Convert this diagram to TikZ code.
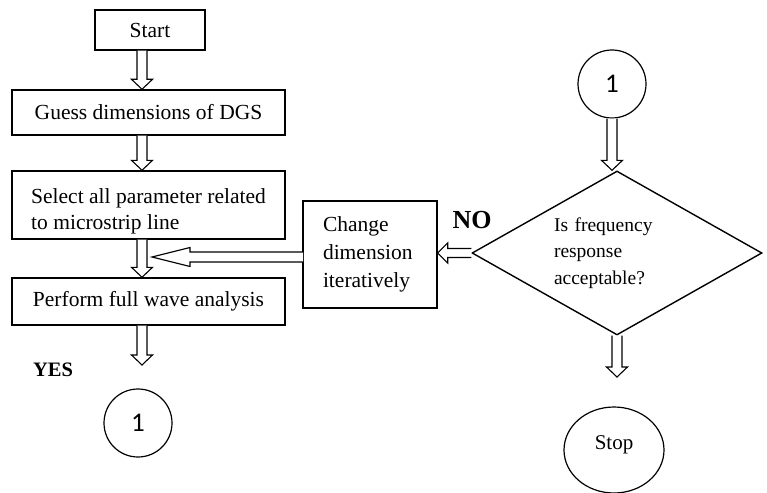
\documentclass[tikz,border=0pt]{standalone}
\usepackage{fontspec}
\setmainfont{Liberation Serif}
\newfontfamily\digitfont{Carlito}
\usetikzlibrary{shapes.geometric,calc}
\newcommand\downblk[2]{\draw[blk] let \p1=(#1), \p2=(#2) in
  (\x1-5pt,\y1) -- (\x1-5pt,\y2+10pt) -- (\x1-10.5pt,\y2+10pt) -- (\x1,\y2)
  -- (\x1+10.5pt,\y2+10pt) -- (\x1+5pt,\y2+10pt) -- (\x1+5pt,\y1);}
\newcommand\leftblk[5]{\draw[blk] let \p1=(#1), \p2=(#2) in
  (\x1,\y1+#3) -- (\x2+#5,\y1+#3) -- (\x2+#5,\y1+#4) -- (\x2,\y1)
  -- (\x2+#5,\y1-#4) -- (\x2+#5,\y1-#3) -- (\x1,\y1-#3);}
\begin{document}
\begin{tikzpicture}[x=1pt,y=-1pt,
  box/.style={draw, line width=1.4pt, inner sep=0pt, font=\fontsize{21.5}{26}\selectfont},
  conn/.style={draw, circle, line width=1.2pt, minimum size=68pt, inner sep=0pt,
    font=\digitfont\fontsize{27}{28}\selectfont},
  blk/.style={draw, line width=1.1pt, fill=white, line join=miter},
  lbl/.style={font=\bfseries\fontsize{20.5}{22}\selectfont, inner sep=0pt}
]
\useasboundingbox (0,0) rectangle (767,492);

\node[box, minimum width=110, minimum height=40] (start) at (150,30) {Start};
\node[box, minimum width=273, minimum height=45] (guess) at (148.5,112.5) {Guess dimensions of DGS};
\node[box, minimum width=273, minimum height=68, align=left] (select) at (148.5,205)
  {\rule{0pt}{28pt}Select all parameter related\\to microstrip line};
\node[box, minimum width=273, minimum height=47] (perform) at (148.5,301.5) {Perform full wave analysis};
\node[box, minimum width=134, minimum height=107, align=left, text width=94,
  font=\fontsize{21.5}{28}\selectfont] (change) at (370,254.5) {Change\\dimension\\iteratively};
\node[draw, diamond, aspect=1.768, minimum width=290, minimum height=164, inner sep=0pt,
  line width=1.4pt, align=left, text width=126, font=\fontsize{19.5}{26.5}\selectfont]
  (dec) at (617,253) {Is frequency\\response\\acceptable?};
\node[conn] (c1) at (612,84) {1};
\node[conn] (c2) at (138,423) {1};
\node[draw, ellipse, minimum width=100, minimum height=86, inner sep=0pt, line width=1.2pt,
  font=\fontsize{21}{24}\selectfont] (stop) at (614,450) {\rule[-15pt]{0pt}{1pt}Stop};
\node[lbl, font=\bfseries\fontsize{26}{28}\selectfont] (no) at (472,220) {NO};
\node[lbl] (yes) at (53,370) {YES};

\coordinate (lx) at (142,0);
\coordinate (yesend) at (142,365);
\coordinate (stopend) at (614,377);
\coordinate (bigtip) at (152,257);
\coordinate (bigstart) at (303,257);

\downblk{lx |- start.south}{lx |- guess.north}
\downblk{lx |- guess.south}{lx |- select.north}
\downblk{lx |- select.south}{lx |- perform.north}
\downblk{lx |- perform.south}{yesend}
\downblk{c1.south}{c1.south |- dec.north}
\downblk{dec.south}{stopend}
\leftblk{bigstart}{bigtip}{5pt}{9.5pt}{38pt}
\leftblk{dec.west}{change.east}{4.5pt}{10pt}{10pt}
\end{tikzpicture}
\end{document}
